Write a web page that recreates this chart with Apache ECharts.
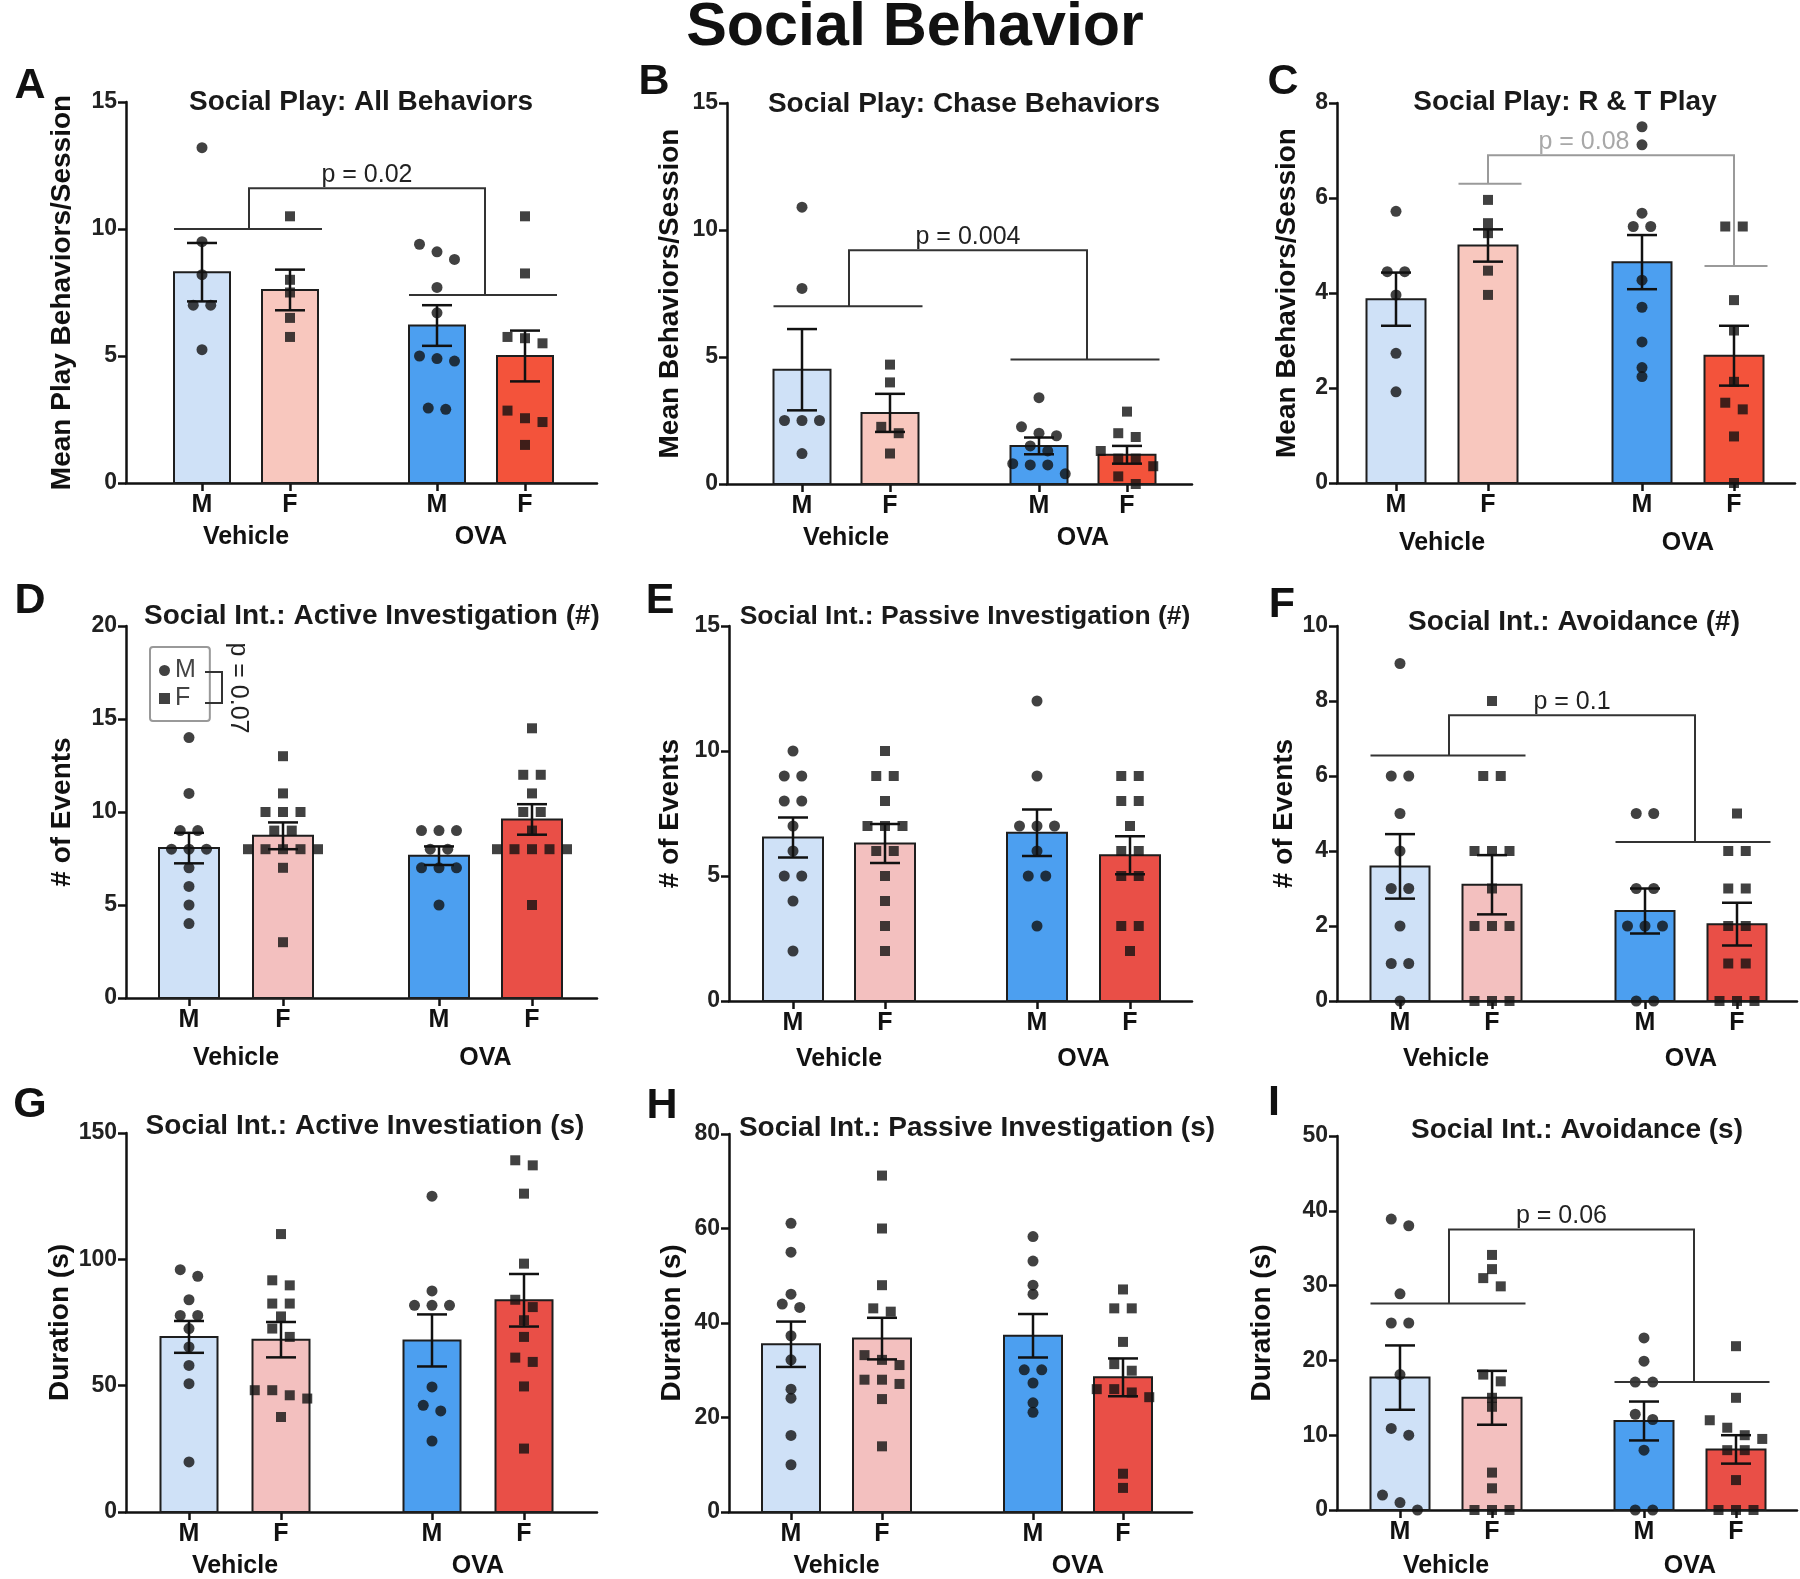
<!DOCTYPE html>
<html>
<head>
<meta charset="utf-8">
<script src="https://cdn.jsdelivr.net/npm/echarts@6.0.0/dist/echarts.min.js"></script>
<style>
html, body { margin: 0; padding: 0; background: #fff; }
#main { width: 1800px; height: 1579px; }
</style>
</head>
<body>
<div id="main"></div>
<script>
var FONT = '"Liberation Sans", Arial, Helvetica, sans-serif';

// ---- chart text ----
var sexLabels = ['M', 'F', 'M', 'F'];
var treatments = ['Vehicle', 'OVA'];
var panelLetters = ['A', 'B', 'C', 'D', 'E', 'F', 'G', 'H', 'I'];
var panelTitles = [
    'Social Play: All Behaviors', 'Social Play: Chase Behaviors', 'Social Play: R & T Play',
    'Social Int.: Active Investigation (#)', 'Social Int.: Passive Investigation (#)', 'Social Int.: Avoidance (#)',
    'Social Int.: Active Investiation (s)', 'Social Int.: Passive Investigation (s)', 'Social Int.: Avoidance (s)'
];
var yNames = ['Mean Play Behaviors/Session', 'Mean Behaviors/Session', 'Mean Behaviors/Session',
    '# of Events', '# of Events', '# of Events', 'Duration (s)', 'Duration (s)', 'Duration (s)'];
var yMax = [15, 15, 8, 20, 15, 10, 150, 80, 50];
var yStep = [5, 5, 2, 5, 5, 2, 50, 20, 10];

// ---- data: bars are [Veh M, Veh F, OVA M, OVA F] ----
// A
var aMean = [8.3, 7.6, 6.2, 5.0];
var aSem = [1.15, 0.8, 0.8, 1.0];
var aVehM = [13.2, 9.5, 8.2, 7.0, 7.0, 5.25];
var aVehF = [10.5, 8.0, 7.5, 6.5, 5.75];
var aOvaM = [9.4, 9.1, 8.8, 7.7, 6.7, 5.0, 4.9, 4.8, 2.95, 2.9];
var aOvaF = [10.5, 8.25, 5.75, 5.7, 5.5, 2.85, 2.55, 2.4, 1.5];
// B
var bMean = [4.5, 2.8, 1.5, 1.15];
var bSem = [1.6, 0.75, 0.33, 0.35];
var bVehM = [10.9, 7.7, 2.5, 2.5, 2.5, 1.2];
var bVehF = [4.7, 4.0, 2.25, 2.0, 1.2];
var bOvaM = [3.4, 2.25, 2.0, 1.9, 1.5, 1.3, 0.8, 0.75, 0.75, 0.4];
var bOvaF = [2.85, 2.0, 1.85, 1.3, 1.0, 1.0, 0.7, 0.3, 0.0];
// C
var cMean = [3.87, 5.0, 4.65, 2.68];
var cSem = [0.56, 0.34, 0.57, 0.63];
var cVehM = [5.72, 4.45, 4.45, 3.96, 2.73, 1.92];
var cVehF = [5.96, 5.47, 5.26, 4.47, 3.96];
var cOvaM = [7.5, 7.12, 5.68, 5.4, 5.4, 4.27, 3.7, 2.97, 2.43, 2.24];
var cOvaF = [5.4, 5.4, 3.85, 3.21, 2.13, 1.69, 1.55, 0.98, 0];
// D
var dMean = [8.06, 8.72, 7.65, 9.6];
var dSem = [0.82, 0.72, 0.5, 0.82];
var dVehM = [14, 11, 9, 9, 8, 8, 8, 7, 6, 5, 4];
var dVehF = [13, 11, 10, 10, 10, 9, 9, 8, 8, 8, 8, 8, 7, 3];
var dOvaM = [9, 9, 9, 8, 8, 7, 7, 7, 5];
var dOvaF = [14.5, 12, 12, 11, 10, 10, 9, 8, 8, 8, 8, 8, 5];
// E
var eMean = [6.54, 6.3, 6.73, 5.83];
var eSem = [0.8, 0.78, 0.93, 0.76];
var eVehM = [10, 9, 9, 8, 8, 7, 6, 5, 5, 4, 2];
var eVehF = [10, 9, 9, 8, 7, 7, 7, 6, 6, 5, 4, 3, 2];
var eOvaM = [12, 9, 7, 7, 7, 6, 5, 5, 3];
var eOvaF = [9, 9, 8, 8, 7, 6, 6, 5, 5, 3, 3, 2];
// F
var fMean = [3.59, 3.1, 2.4, 2.05];
var fSem = [0.86, 0.79, 0.6, 0.57];
var fVehM = [9, 6, 6, 5, 4, 3, 3, 2, 1, 1, 0];
var fVehF = [8, 6, 6, 4, 4, 4, 3, 2, 2, 2, 0, 0, 0];
var fOvaM = [5, 5, 3, 3, 2, 2, 2, 0, 0];
var fOvaF = [5, 4, 4, 3, 3, 2, 2, 1, 1, 0, 0, 0];
// G
var gMean = [69.3, 68.2, 67.9, 83.8];
var gSem = [6.3, 7.0, 10.3, 10.4];
var gVehM = [95.9, 93.3, 84, 77.8, 77.8, 72.6, 65.3, 58, 50.8, 19.8];
var gVehF = [110, 91.7, 89.7, 82.5, 82.5, 77.4, 72.6, 69.3, 48.2, 48.2, 46.2, 44.9, 37.6];
var gOvaM = [125, 87.5, 81.8, 81.8, 81.8, 49.5, 42.2, 40, 28.1];
var gOvaF = [139.2, 137.2, 126, 98.3, 84, 81.1, 75.9, 69.3, 61.1, 59.4, 49.7, 25.1];
// H
var hMean = [35.5, 36.7, 37.3, 28.5];
var hSem = [4.8, 4.4, 4.6, 4.0];
var hVehM = [61.1, 55, 46.1, 44, 43.3, 37.3, 32.2, 26, 24.1, 16.2, 10];
var hVehF = [71.2, 60, 48, 43.1, 42.4, 33.2, 32.2, 31.1, 28, 28, 27.1, 23.9, 13.9];
var hOvaM = [58.3, 53.1, 48, 46.1, 30.1, 30.1, 27.3, 23.1, 21.1];
var hOvaF = [47.1, 43.1, 43.1, 36, 31.3, 29.9, 26, 26, 25.3, 24.3, 8.1, 5.1];
// I
var iMean = [17.7, 15.0, 11.9, 8.1];
var iSem = [4.3, 3.6, 2.6, 1.9];
var iVehM = [38.9, 38, 28.9, 25, 25, 18.1, 10.9, 10, 2, 1, 0];
var iVehF = [34.1, 32.2, 31, 29.9, 18.1, 17.2, 15, 13.8, 5, 2.9, 0, 0, 0];
var iOvaM = [23, 19.9, 17.1, 17.1, 12.8, 12.1, 8, 0, 0];
var iOvaF = [21.9, 15, 12, 11, 10, 9.5, 8, 8, 4, 0, 0, 0];

// brackets: [left line, top, right line]
var aBracket = [10.0, 11.6, 7.4];
var bBracket = [7.0, 9.2, 4.9];
var cBracket = [6.3, 6.9, 4.57];
var fBracket = [6.55, 7.62, 4.24];
var iBracket = [27.6, 37.5, 17.1];
var pValues = ['p = 0.02', 'p = 0.004', 'p = 0.08', 'p = 0.1', 'p = 0.06'];
var legendP = 'p = 0.07';

var means = [aMean, bMean, cMean, dMean, eMean, fMean, gMean, hMean, iMean];
var sems = [aSem, bSem, cSem, dSem, eSem, fSem, gSem, hSem, iSem];
var points = [
    [aVehM, aVehF, aOvaM, aOvaF], [bVehM, bVehF, bOvaM, bOvaF], [cVehM, cVehF, cOvaM, cOvaF],
    [dVehM, dVehF, dOvaM, dOvaF], [eVehM, eVehF, eOvaM, eOvaF], [fVehM, fVehF, fOvaM, fOvaF],
    [gVehM, gVehF, gOvaM, gOvaF], [hVehM, hVehF, hOvaM, hOvaF], [iVehM, iVehF, iOvaM, iOvaF]
];

// ---- layout (pixels) ----
var layouts = [
    {left: 126, right: 597, top: 102, bottom: 483, centers: [202, 290, 437, 525], barW: 56, nameGap: 50, groupGap: 42, title: [361, 102], titleSize: 28, letter: [30, 86]},
    {left: 727, right: 1192, top: 103, bottom: 484, centers: [802, 890, 1039, 1127], barW: 57, nameGap: 43, groupGap: 42, title: [964, 104], titleSize: 28, letter: [654, 82]},
    {left: 1337, right: 1795, top: 103, bottom: 483, centers: [1396, 1488, 1642, 1734], barW: 59, nameGap: 36, groupGap: 48, title: [1565, 102], titleSize: 28, letter: [1283, 82]},
    {left: 126, right: 597, top: 626, bottom: 998, centers: [189, 283, 439, 532], barW: 60, nameGap: 50, groupGap: 48, title: [372, 616], titleSize: 28, letter: [30, 601]},
    {left: 729, right: 1192, top: 626, bottom: 1001, centers: [793, 885, 1037, 1130], barW: 60, nameGap: 45, groupGap: 46, title: [965, 617], titleSize: 26.5, letter: [660, 601]},
    {left: 1337, right: 1797, top: 626, bottom: 1001, centers: [1400, 1492, 1645, 1737], barW: 59, nameGap: 38, groupGap: 46, title: [1574, 622], titleSize: 28, letter: [1282, 605]},
    {left: 126, right: 597, top: 1133, bottom: 1512, centers: [189, 281, 432, 524], barW: 57, nameGap: 47, groupGap: 42, title: [365, 1126], titleSize: 28, letter: [30, 1105]},
    {left: 729, right: 1192, top: 1134, bottom: 1513, centers: [791, 882, 1033, 1123], barW: 58, nameGap: 43, groupGap: 42, title: [977, 1128], titleSize: 28, letter: [662, 1106]},
    {left: 1337, right: 1797, top: 1136, bottom: 1513, centers: [1400, 1492, 1644, 1736], barW: 59, nameGap: 61, groupGap: 44, title: [1577, 1130], titleSize: 28, letter: [1274, 1103]}
];
var bracketLayout = [
    {panel: 0, data: aBracket, left: [0, 1], right: [2, 3], color: '#333', textColor: '#222', dx: 0},
    {panel: 1, data: bBracket, left: [0, 1], right: [2, 3], color: '#333', textColor: '#222', dx: 0},
    {panel: 2, data: cBracket, left: [1], right: [3], color: '#9a9a9a', textColor: '#a8a8a8', dx: -27},
    {panel: 5, data: fBracket, left: [0, 1], right: [2, 3], color: '#333', textColor: '#222', dx: 0},
    {panel: 8, data: iBracket, left: [0, 1], right: [2, 3], color: '#333', textColor: '#222', dx: -10}
];
var palettes = [
    ['#cfe1f7', '#f8c7be', '#4c9ff0', '#f3533b'],
    ['#cfe1f7', '#f3c0bf', '#4c9ff0', '#e94f47'],
    ['#cfe1f7', '#f3c0bf', '#4c9ff0', '#e94f47']
];

function nearestIndex(arr, v) {
    var best = 0;
    for (var i = 1; i < arr.length; i++) {
        if (Math.abs(arr[i] - v) < Math.abs(arr[best] - v)) best = i;
    }
    return best;
}

// spread points that would overlap into centred rows
function swarm(vals, ymax, plotH) {
    var order = vals.map(function (v, i) { return i; }).sort(function (a, b) { return vals[b] - vals[a]; });
    var offs = [], rows = [], cur = [];
    order.forEach(function (i) {
        if (cur.length && (vals[cur[cur.length - 1]] - vals[i]) / ymax * plotH >= 9) {
            rows.push(cur);
            cur = [];
        }
        cur.push(i);
    });
    if (cur.length) rows.push(cur);
    rows.forEach(function (r) {
        r.forEach(function (i, k) { offs[i] = (k - (r.length - 1) / 2) * 17.5; });
    });
    return offs;
}

var myChart = echarts.init(document.getElementById('main'));
var option = {
    animation: false,
    backgroundColor: '#fff',
    textStyle: {fontFamily: FONT},
    legend: {
        data: [{name: 'M', icon: 'circle'}, {name: 'F', icon: 'rect'}],
        orient: 'vertical', left: 150, top: 647,
        itemWidth: 11, itemHeight: 11, itemGap: 3,
        padding: [11, 14, 10, 9],
        borderColor: '#999', borderWidth: 2, borderRadius: 3,
        selectedMode: false,
        textStyle: {fontSize: 25, color: '#444', fontFamily: FONT}
    },
    grid: [], xAxis: [], yAxis: [], series: [],
    graphic: []
};

layouts.forEach(function (L, k) {
    var w = L.right - L.left, h = L.bottom - L.top;
    var rel = L.centers.map(function (c) { return c - L.left; });
    var mids = [(rel[0] + rel[1]) / 2, (rel[2] + rel[3]) / 2];
    var colors = palettes[Math.floor(k / 3)];

    option.grid.push({left: L.left, top: L.top, width: w, height: h});
    option.xAxis.push({
        gridIndex: k, type: 'value', position: 'bottom', min: 0, max: w,
        axisLine: {show: true, onZero: false, lineStyle: {color: '#111', width: 2.5}},
        axisTick: {show: true, customValues: rel, length: 8, lineStyle: {color: '#111', width: 2.5}},
        axisLabel: {
            show: true, customValues: rel, margin: 10, fontSize: 25, fontWeight: 'bold', color: '#111',
            formatter: function (v) { return sexLabels[nearestIndex(rel, v)]; }
        },
        splitLine: {show: false}
    });
    option.xAxis.push({
        gridIndex: k, type: 'value', position: 'bottom', min: 0, max: w,
        axisLine: {show: false}, axisTick: {show: false}, splitLine: {show: false},
        axisLabel: {
            show: true, customValues: mids, margin: L.groupGap, fontSize: 25, fontWeight: 'bold', color: '#111',
            formatter: function (v) { return treatments[nearestIndex(mids, v)]; }
        }
    });
    option.yAxis.push({
        gridIndex: k, type: 'value', min: 0, max: yMax[k], interval: yStep[k],
        name: yNames[k], nameLocation: 'middle', nameGap: L.nameGap,
        nameTextStyle: {fontSize: 28, fontWeight: 'bold', color: '#111'},
        axisLine: {show: true, lineStyle: {color: '#111', width: 2.5}},
        axisTick: {show: true, length: 8, lineStyle: {color: '#111', width: 2.5}},
        axisLabel: {fontSize: 23, fontWeight: 'bold', color: '#222', margin: 9},
        splitLine: {show: false}
    });

    // bars with SEM
    option.series.push({
        type: 'custom', xAxisIndex: 2 * k, yAxisIndex: k, z: 2,
        data: means[k].map(function (m, i) { return [rel[i], m, sems[k][i], i]; }),
        renderItem: function (params, api) {
            var x = api.value(0), m = api.value(1), s = api.value(2), i = api.value(3);
            var p0 = api.coord([x, 0]), p1 = api.coord([x, m]);
            var bw = api.size([L.barW, 0])[0];
            var pt = api.coord([x, m + s]), pb = api.coord([x, Math.max(m - s, 0)]);
            var cap = 15;
            var line = {stroke: '#111', lineWidth: 2.5, fill: null};
            return {
                type: 'group',
                children: [
                    {type: 'rect', shape: {x: p0[0] - bw / 2, y: p1[1], width: bw, height: p0[1] - p1[1]},
                        style: {fill: colors[i], stroke: '#1e1e1e', lineWidth: 2}},
                    {type: 'line', shape: {x1: pt[0], y1: pt[1], x2: pb[0], y2: pb[1]}, style: line},
                    {type: 'line', shape: {x1: pt[0] - cap, y1: pt[1], x2: pt[0] + cap, y2: pt[1]}, style: line},
                    {type: 'line', shape: {x1: pb[0] - cap, y1: pb[1], x2: pb[0] + cap, y2: pb[1]}, style: line}
                ]
            };
        }
    });

    // individual animals
    var mData = [], fData = [];
    points[k].forEach(function (vals, i) {
        var offs = swarm(vals, yMax[k], h);
        vals.forEach(function (v, j) {
            (i % 2 === 0 ? mData : fData).push([rel[i] + offs[j], v]);
        });
    });
    option.series.push({type: 'scatter', name: 'M', xAxisIndex: 2 * k, yAxisIndex: k, z: 4,
        symbol: 'circle', symbolSize: 11, itemStyle: {color: '#111'}, data: mData});
    option.series.push({type: 'scatter', name: 'F', xAxisIndex: 2 * k, yAxisIndex: k, z: 4,
        symbol: 'rect', symbolSize: 10, itemStyle: {color: '#111'}, data: fData});

    // titles and letters
    option.graphic.push({type: 'text', x: L.title[0], y: L.title[1], z: 10,
        style: {text: panelTitles[k], fontSize: L.titleSize, fontWeight: 'bold', fontFamily: FONT, fill: '#1a1a1a',
            align: 'center', verticalAlign: 'middle'}});
    option.graphic.push({type: 'text', x: L.letter[0], y: L.letter[1], z: 10,
        style: {text: panelLetters[k], fontSize: 43, fontWeight: 'bold', fontFamily: FONT, fill: '#111',
            align: 'center', verticalAlign: 'middle'}});
});

// significance brackets
bracketLayout.forEach(function (B, n) {
    var L = layouts[B.panel];
    var rel = L.centers.map(function (c) { return c - L.left; });
    var hw = L.barW / 2;
    var l0 = B.left[0], l1 = B.left[B.left.length - 1];
    var r0 = B.right[0], r1 = B.right[B.right.length - 1];
    option.series.push({
        type: 'custom', xAxisIndex: 2 * B.panel, yAxisIndex: B.panel, z: 5,
        data: [B.data],
        renderItem: function (params, api) {
            var yl = api.value(0), yt = api.value(1), yr = api.value(2);
            var lm = (rel[l0] + rel[l1]) / 2 + (l0 === l1 ? 0 : 3);
            var rm = (rel[r0] + rel[r1]) / 2 + (r0 === r1 ? 0 : 4);
            var st = {stroke: B.color, lineWidth: 2, fill: null};
            var P = function (x, y) { return api.coord([x, y]); };
            var top = P((lm + rm) / 2, yt);
            return {
                type: 'group',
                children: [
                    {type: 'polyline', shape: {points: [P(rel[l0] - hw, yl), P(rel[l1] + hw + 4, yl)]}, style: st},
                    {type: 'polyline', shape: {points: [P(lm, yl), P(lm, yt), P(rm, yt), P(rm, yr)]}, style: st},
                    {type: 'polyline', shape: {points: [P(rel[r0] - hw, yr), P(rel[r1] + hw + 4, yr)]}, style: st},
                    {type: 'text', x: top[0] + B.dx, y: top[1] - 1,
                        style: {text: pValues[n], fontSize: 25, fontFamily: FONT, fill: B.textColor,
                            align: 'center', verticalAlign: 'bottom'}}
                ]
            };
        }
    });
});

// main title and the M/F bracket next to the legend in D
option.graphic.push({type: 'text', x: 915, y: 28, z: 10,
    style: {text: 'Social Behavior', fontSize: 61, fontWeight: 'bold', fontFamily: FONT, fill: '#111',
        align: 'center', verticalAlign: 'middle'}});
option.graphic.push({type: 'polyline', z: 10,
    shape: {points: [[205, 672], [222, 672], [222, 703], [205, 703]]},
    style: {stroke: '#333', lineWidth: 2, fill: null}});
option.graphic.push({type: 'text', x: 238, y: 688, rotation: -Math.PI / 2, z: 10,
    style: {text: legendP, fontSize: 25, fontFamily: FONT, fill: '#222', align: 'center', verticalAlign: 'middle'}});

myChart.setOption(option);
</script>
</body>
</html>
